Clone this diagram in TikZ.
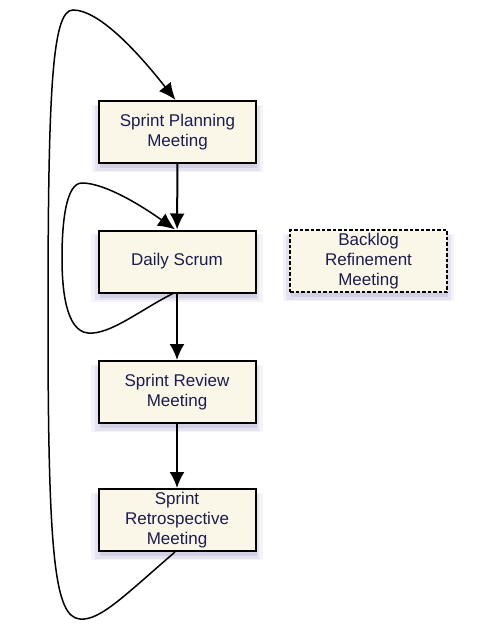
\documentclass[tikz,border=0pt]{standalone}
\usepackage{fontspec}
\setmainfont{Liberation Sans}
\usetikzlibrary{arrows.meta,shadows}
\definecolor{boxfill}{RGB}{250,247,232}
\definecolor{boxtext}{RGB}{28,28,78}
\definecolor{shade}{RGB}{150,140,190}
\newcommand{\drawarrow}{\draw[line width=2pt,-{Latex[length=16pt,width=15pt]}]}
\newcommand{\drawloop}{\draw[line width=1.5pt,-{Latex[length=17pt,width=15pt]}]}
\tikzset{
  meeting/.style={draw,line width=2pt,fill=boxfill,text=boxtext,align=center,
    minimum width=157pt,minimum height=62pt,inner sep=0pt,
    font=\fontsize{17}{20}\selectfont,
    general shadow={fill=shade,opacity=.10,shadow scale=1.09,shadow yshift=-6pt},
    general shadow={fill=shade,opacity=.16,shadow scale=1.045,shadow yshift=-6pt},
    general shadow={fill=shade,opacity=.22,shadow xshift=1pt,shadow yshift=-5pt}},
  optional/.style={meeting,dash pattern=on 3.5pt off 2pt,line width=1.8pt}
}
\begin{document}
\begin{tikzpicture}[x=1pt,y=-1pt]
\useasboundingbox (0,0) rectangle (490,626);
\node[meeting] (plan) at (177.5,132) {Sprint Planning\\Meeting};
\node[meeting] (daily) at (177,261.5) {Daily Scrum};
\node[meeting] (review) at (177,392) {Sprint Review\\Meeting};
\node[meeting] (retro) at (177,520) {Sprint\\Retrospective\\Meeting};
\node[optional] (backlog) at (368.5,261) {Backlog\\Refinement\\Meeting};
% straight flow
\drawarrow (plan) -- (daily);
\drawarrow (daily) -- (review);
\drawarrow (review) -- (retro);
% daily loop
\coordinate (dlow) at (88,333);
\coordinate (dleft) at (62,258);
\coordinate (dtop) at (82,183);
\drawloop ([xshift=-4pt]daily.south) .. controls (140,310) and (110,335) .. (dlow)
  .. controls (66,331) and (62,290) .. (dleft)
  .. controls (62,222) and (66,183) .. (dtop)
  .. controls (105,183) and (142,206) .. ([xshift=-2pt]daily.north);
% sprint loop
\coordinate (slow) at (80,619);
\coordinate (sleft) at (48,320);
\coordinate (stop) at (73,10);
\drawloop ([xshift=-2pt]retro.south) .. controls (125,595) and (100,621) .. (slow)
  .. controls (55,617) and (48,560) .. (sleft)
  .. controls (48,90) and (52,10) .. (stop)
  .. controls (100,10) and (140,55) .. ([xshift=-2pt]plan.north);
\end{tikzpicture}
\end{document}
